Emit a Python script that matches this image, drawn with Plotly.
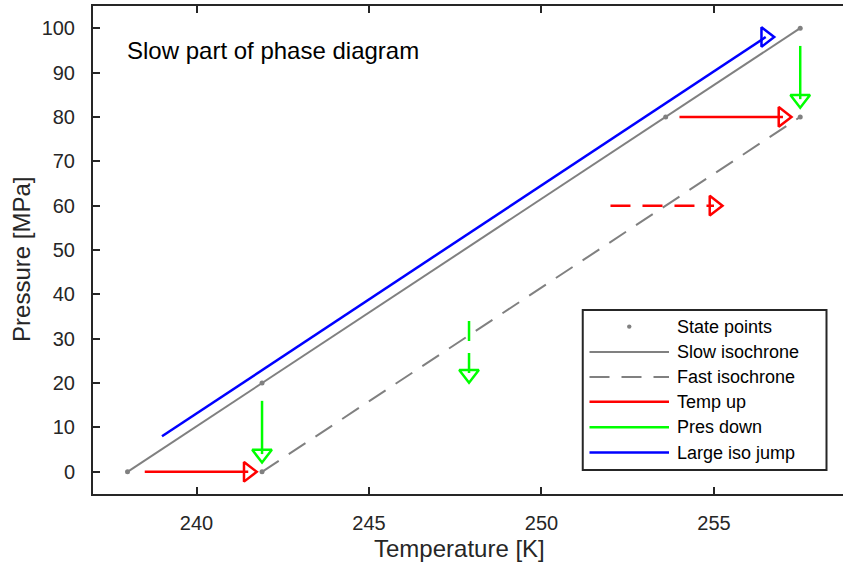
import plotly.graph_objects as go

# ---- data: temperature [K] and pressure [MPa] ----
state_T = [238.0, 241.9, 241.9, 253.6, 257.5, 257.5]
state_P = [0, 0, 20, 80, 80, 100]

slow_T = [238.0, 257.5]
slow_P = [0, 100]

fast_T = [241.9, 257.5]
fast_P = [0, 80]

temp_up_a_T = [238.5, 241.5]
temp_up_a_P = [0, 0]
temp_up_b_T = [254.0, 257.0]
temp_up_b_P = [80, 80]
temp_up_fast_T = [252.0, 255.0]
temp_up_fast_P = [60, 60]

pres_down_a_T = [241.9, 241.9]
pres_down_a_P = [16, 4]
pres_down_b_T = [257.5, 257.5]
pres_down_b_P = [96, 84]
pres_down_fast_T = [247.9, 247.9]
pres_down_fast_P = [34, 22]

iso_jump_T = [239.0, 256.5]
iso_jump_P = [8, 98]

x_ticks = [240, 245, 250, 255]
y_ticks = [0, 10, 20, 30, 40, 50, 60, 70, 80, 90, 100]

legend_labels = ["State points", "Slow isochrone", "Fast isochrone",
                 "Temp up", "Pres down", "Large iso jump"]

GRAY = "rgb(128,128,128)"
RED = "rgb(255,0,0)"
GREEN = "rgb(0,255,0)"
BLUE = "rgb(0,0,255)"
AXIS = "#262626"
FONT = "Liberation Sans, Arial, sans-serif"
DASH = "20px,12px"

fig = go.Figure()

fig.add_trace(go.Scatter(x=slow_T, y=slow_P, mode="lines",
                         line=dict(color=GRAY, width=2), showlegend=False))
fig.add_trace(go.Scatter(x=fast_T, y=fast_P, mode="lines",
                         line=dict(color=GRAY, width=2, dash=DASH), showlegend=False))


def arrow(xs, ys, color, symbol, dash="solid"):
    # line with an open triangle marker at its final point
    fig.add_trace(go.Scatter(
        x=xs, y=ys, mode="lines+markers",
        line=dict(color=color, width=2.5, dash=dash),
        marker=dict(symbol=symbol, size=17, color=color,
                    opacity=[0] * (len(xs) - 1) + [1],
                    line=dict(color=color, width=2.5)),
        showlegend=False))


arrow(temp_up_a_T, temp_up_a_P, RED, "triangle-right-open")
arrow(temp_up_b_T, temp_up_b_P, RED, "triangle-right-open")
arrow(temp_up_fast_T, temp_up_fast_P, RED, "triangle-right-open", DASH)
arrow(pres_down_a_T, pres_down_a_P, GREEN, "triangle-down-open")
arrow(pres_down_b_T, pres_down_b_P, GREEN, "triangle-down-open")
arrow(pres_down_fast_T, pres_down_fast_P, GREEN, "triangle-down-open", DASH)
arrow(iso_jump_T, iso_jump_P, BLUE, "triangle-right-open")

fig.add_trace(go.Scatter(x=state_T, y=state_P, mode="markers",
                         marker=dict(color=GRAY, size=5), showlegend=False))

# ---- legend box (paper coordinates) ----
shapes = []
box_x0, box_x1, box_y0, box_y1 = 0.653, 0.978, 0.049, 0.377
shapes.append(dict(type="rect", xref="paper", yref="paper",
                   x0=box_x0, x1=box_x1, y0=box_y0, y1=box_y1,
                   line=dict(color=AXIS, width=2), fillcolor="white", layer="above"))
row_y = [0.343, 0.291, 0.240, 0.189, 0.137, 0.085]
lx0, lx1, tx = 0.662, 0.768, 0.776
row_styles = [None, (GRAY, "solid", 2), (GRAY, DASH, 2),
              (RED, "solid", 2.5), (GREEN, "solid", 2.5), (BLUE, "solid", 2.5)]
for y, style in zip(row_y, row_styles):
    if style is None:
        rx, ry = 2.2 / 750, 2.2 / 488
        cx = (lx0 + lx1) / 2
        shapes.append(dict(type="circle", xref="paper", yref="paper",
                           x0=cx - rx, x1=cx + rx, y0=y - ry, y1=y + ry,
                           fillcolor=GRAY, line=dict(width=0), layer="above"))
    else:
        c, d, w = style
        shapes.append(dict(type="line", xref="paper", yref="paper",
                           x0=lx0, x1=lx1, y0=y, y1=y,
                           line=dict(color=c, dash=d, width=w), layer="above"))

annotations = [dict(text=t, xref="paper", yref="paper", x=tx, y=y,
                    xanchor="left", yanchor="middle", showarrow=False,
                    font=dict(family=FONT, size=18, color="black"))
               for t, y in zip(legend_labels, row_y)]
annotations.append(dict(text="Slow part of phase diagram", xref="paper", yref="paper",
                        x=0.042, y=0.908, xanchor="left", yanchor="middle",
                        showarrow=False,
                        font=dict(family=FONT, size=24, color="black")))
# axis titles
annotations.append(dict(text="Temperature [K]", xref="paper", yref="paper",
                        x=0.488, y=-0.1127, xanchor="center", yanchor="middle",
                        showarrow=False,
                        font=dict(family=FONT, size=24, color=AXIS)))
annotations.append(dict(text="Pressure [MPa]", xref="paper", yref="paper",
                        x=-0.0947, y=0.4816, xanchor="center", yanchor="middle",
                        textangle=-90, showarrow=False,
                        font=dict(family=FONT, size=24, color=AXIS)))

axis_common = dict(showline=True, linecolor=AXIS, linewidth=2,
                   ticks="inside", ticklen=7, tickwidth=2, tickcolor=AXIS,
                   showgrid=False, zeroline=False, automargin=False,
                   tickfont=dict(family=FONT, size=20, color=AXIS))

fig.update_layout(
    width=843, height=567,
    margin=dict(l=93, r=0, t=6, b=73),
    paper_bgcolor="white", plot_bgcolor="white",
    showlegend=False,
    shapes=shapes, annotations=annotations,
    xaxis=dict(range=[237, 258.74], tickvals=x_ticks, ticklabelstandoff=10,
               mirror="ticks", **axis_common),
    yaxis=dict(range=[-5, 105], tickvals=y_ticks, ticklabelstandoff=12,
               mirror=False, **axis_common),
)

fig.write_html("out.html")
